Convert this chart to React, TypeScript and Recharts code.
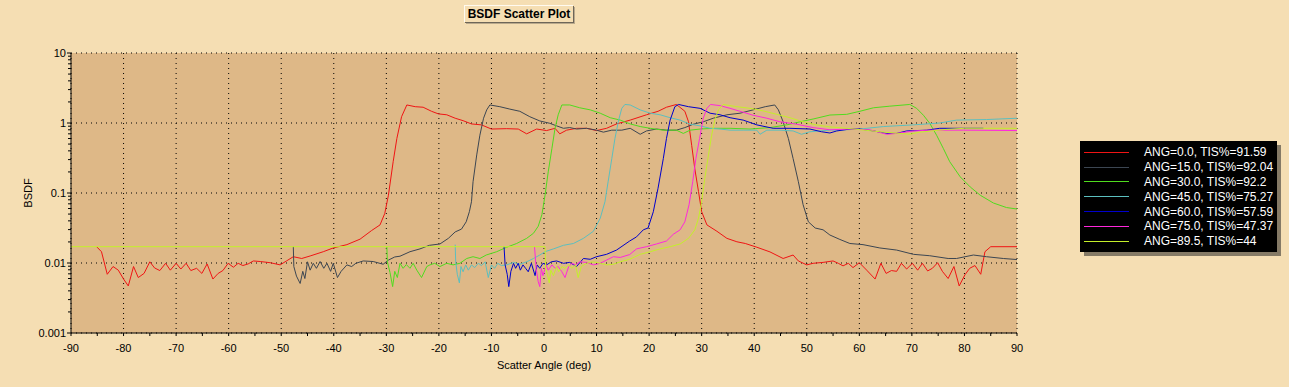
import React from 'react';
import { LineChart, Line, XAxis, YAxis, CartesianGrid, Legend } from 'recharts';

// scatter angle (deg), BSDF value
const ang00: [number, number][] = [
  [-85.1, 0.017], [-84.2, 0.0145], [-83.1, 0.0069], [-82, 0.0089], [-81, 0.0079], [-80, 0.0059], [-79.1, 0.0047],
  [-78.1, 0.0089], [-77.2, 0.0062], [-76.1, 0.0071], [-75, 0.0104], [-74.1, 0.0085], [-73.1, 0.0078], [-72, 0.0099],
  [-71.1, 0.0079], [-70, 0.0099], [-69.1, 0.0082], [-68.1, 0.0099], [-67.2, 0.0078], [-66.1, 0.0084], [-65.1, 0.0071],
  [-64.1, 0.0097], [-63, 0.0059], [-62, 0.0071], [-61.1, 0.0078], [-60.1, 0.0099], [-59.1, 0.0087], [-58.2, 0.0099],
  [-57.3, 0.0092], [-56.3, 0.0097], [-55.3, 0.0107], [-54, 0.0105], [-52.1, 0.0101], [-50.2, 0.0094], [-49, 0.0107],
  [-47.7, 0.0123], [-46.1, 0.0116], [-44.5, 0.0126], [-42, 0.0145], [-40.1, 0.0164], [-37.5, 0.0183], [-35, 0.0219],
  [-32.8, 0.0291], [-31.2, 0.035], [-30.3, 0.051], [-29.6, 0.093], [-28.7, 0.28], [-28, 0.6], [-27.1, 1.23],
  [-26.1, 1.81], [-24.5, 1.71], [-23, 1.68], [-21.4, 1.47], [-20.1, 1.35], [-18.5, 1.31], [-16.9, 1.17], [-15.4, 1.08],
  [-13.8, 0.97], [-11.9, 0.94], [-10, 0.82], [-7.1, 0.83], [-4.9, 0.82], [-3.3, 0.7], [-1.4, 0.82], [0.5, 0.78],
  [2.1, 0.84], [3, 0.7], [4.3, 0.79], [6.2, 0.84], [8.1, 0.84], [10, 0.78], [11.9, 0.84], [13.8, 0.97], [16.4, 1.1],
  [19.5, 1.31], [21.7, 1.47], [23.3, 1.68], [25.2, 1.84], [26.8, 1.47], [27.5, 1.04], [28.1, 0.48], [28.7, 0.22],
  [29.4, 0.105], [30, 0.054], [31, 0.035], [32.9, 0.0284], [34.8, 0.0225], [36.7, 0.0201], [38.3, 0.019],
  [40.5, 0.0168], [43, 0.0144], [45.5, 0.0116], [47.4, 0.013], [48.4, 0.0107], [50, 0.0094], [51.2, 0.0099],
  [53.1, 0.0102], [55, 0.0107], [56, 0.0099], [56.9, 0.0091], [57.9, 0.0099], [58.8, 0.0086], [60, 0.0101],
  [61.4, 0.0079], [63, 0.0059], [64.1, 0.0099], [65.1, 0.0071], [66.1, 0.0078], [67.1, 0.0076], [68, 0.0099],
  [69, 0.0082], [70.1, 0.0099], [71.1, 0.0079], [72, 0.0099], [73, 0.0077], [73.9, 0.0084], [74.9, 0.0101],
  [75.8, 0.0076], [76.9, 0.006], [78, 0.0089], [79, 0.0047], [80.1, 0.0068], [81, 0.0084], [82, 0.0092],
  [83.1, 0.0069], [83.9, 0.0145], [85, 0.0171], [90, 0.0171],
];

const ang15: [number, number][] = [
  [-47.7, 0.0171], [-47.6, 0.0089], [-47.1, 0.0065], [-46.4, 0.0051], [-45.9, 0.0076], [-45.5, 0.006], [-45, 0.0104],
  [-44.5, 0.0079], [-43.9, 0.0099], [-43.3, 0.0084], [-42.6, 0.0105], [-41.9, 0.0084], [-41.3, 0.0099], [-40.6, 0.0076],
  [-40.1, 0.0099], [-39.3, 0.0062], [-38.6, 0.0076], [-37.5, 0.0094], [-36.6, 0.0089], [-35.8, 0.0099], [-34.4, 0.0107],
  [-32.5, 0.0105], [-30.6, 0.0096], [-29.6, 0.011], [-28.4, 0.0122], [-27.4, 0.0125], [-25.5, 0.0145], [-23.6, 0.0159],
  [-21.8, 0.0179], [-19.8, 0.0187], [-18.2, 0.0225], [-16.9, 0.0278], [-15.7, 0.0305], [-14.8, 0.0388], [-14.2, 0.054],
  [-13.8, 0.075], [-13.5, 0.145], [-12.8, 0.35], [-12.2, 0.67], [-11.5, 1.17], [-10.9, 1.54], [-10.3, 1.81],
  [-8.4, 1.71], [-6.5, 1.58], [-4.6, 1.47], [-2.7, 1.23], [-0.8, 1.07], [1.1, 0.99], [2.4, 0.91], [3.7, 0.84],
  [4.9, 0.86], [6.2, 0.82], [8.1, 0.84], [10, 0.79], [11.3, 0.74], [12.9, 0.79], [14.8, 0.79], [16.4, 0.84],
  [18.3, 0.69], [19.5, 0.77], [21.4, 0.82], [23.3, 0.79], [25.2, 0.79], [26.8, 0.86], [28.4, 0.96], [30.3, 1.04],
  [32.2, 1.17], [34.8, 1.31], [37.3, 1.38], [39.8, 1.54], [42.1, 1.71], [43.9, 1.81], [44.6, 1.54], [45.5, 1.04],
  [46.5, 0.6], [47.4, 0.31], [48.4, 0.145], [49.3, 0.068], [50.3, 0.0388], [51.6, 0.0316], [53.1, 0.0298],
  [54.4, 0.0251], [56.3, 0.0217], [58.2, 0.019], [60.7, 0.0183], [63.9, 0.0164], [67.1, 0.0153], [70.3, 0.0133],
  [73.4, 0.0127], [76.9, 0.0116], [78.5, 0.0116], [81.7, 0.013], [84.2, 0.0123], [87.4, 0.0116], [90, 0.0112],
];

const ang30: [number, number][] = [
  [-29.9, 0.0171], [-29.8, 0.0104], [-29.3, 0.0073], [-28.8, 0.0046], [-28.4, 0.0076], [-27.9, 0.0062], [-27.4, 0.0099],
  [-26.8, 0.0084], [-26.2, 0.0095], [-25.5, 0.0084], [-24.9, 0.0099], [-24.2, 0.0079], [-23.3, 0.0062], [-22.3, 0.0089],
  [-21.7, 0.0094], [-20.8, 0.0099], [-19.8, 0.0089], [-18.5, 0.0099], [-17.3, 0.0094], [-16, 0.0099], [-14.7, 0.0116],
  [-13.5, 0.0123], [-12.2, 0.0116], [-11, 0.013], [-9, 0.0145], [-7.1, 0.0168], [-5.2, 0.019], [-3.3, 0.0225],
  [-2, 0.0266], [-1.1, 0.0335], [-0.4, 0.049], [0.2, 0.093], [0.8, 0.2], [1.5, 0.43], [2.1, 0.84], [2.7, 1.31],
  [3.4, 1.81], [4.9, 1.81], [6.8, 1.65], [8.8, 1.54], [10.7, 1.38], [12.6, 1.19], [14.5, 1.1], [16.4, 0.97],
  [18.3, 0.89], [20.2, 0.84], [22.7, 0.79], [25.2, 0.79], [26.5, 0.71], [27.8, 0.79], [29.7, 0.82], [32.2, 0.84],
  [35.4, 0.84], [39.2, 0.82], [43, 0.86], [46.2, 0.94], [48.7, 1.04], [51.2, 1.14], [54.4, 1.3], [57.6, 1.33],
  [60.1, 1.47], [62.7, 1.65], [65.8, 1.74], [69.6, 1.84], [70.9, 1.62], [72.2, 1.29], [73.4, 0.99], [74.7, 0.67],
  [76, 0.43], [77.2, 0.28], [79.2, 0.17], [81.1, 0.122], [83, 0.093], [85.5, 0.072], [88, 0.062], [90, 0.059],
];

const ang45: [number, number][] = [
  [-16.9, 0.0183], [-16.8, 0.0104], [-16.5, 0.0069], [-16.1, 0.0052], [-15.8, 0.0089], [-15.4, 0.0075], [-14.9, 0.0094],
  [-14.4, 0.0079], [-13.8, 0.0094], [-13.2, 0.0086], [-12.5, 0.0099], [-11.9, 0.0092], [-11.2, 0.0104], [-10.6, 0.0062],
  [-10, 0.0094], [-9.4, 0.0084], [-8.8, 0.0099], [-8.1, 0.0092], [-7.1, 0.0094], [-5.8, 0.0102], [-4.6, 0.0096],
  [-3.3, 0.0104], [-2, 0.0116], [-0.8, 0.013], [0.2, 0.0145], [1.8, 0.0159], [3.7, 0.0179], [5.6, 0.019],
  [7.5, 0.0225], [9.4, 0.0284], [10.7, 0.0436], [11.6, 0.075], [12.2, 0.145], [12.9, 0.31], [13.5, 0.6],
  [14.2, 1.1], [14.8, 1.62], [15.4, 1.84], [16.4, 1.81], [18.3, 1.54], [20.2, 1.38], [22.1, 1.31], [24, 1.19],
  [25.9, 1.1], [27.8, 0.96], [29.7, 0.91], [31.6, 0.84], [33.5, 0.82], [35.4, 0.79], [37.9, 0.79], [40.5, 0.79],
  [41.1, 0.69], [42.4, 0.79], [44.9, 0.79], [47.4, 0.77], [49, 0.69], [50.6, 0.75], [52.5, 0.77], [54.4, 0.79],
  [56, 0.79], [60.1, 0.82], [64.6, 0.89], [70.3, 0.94], [75.3, 1.0], [78.5, 1.1], [84.2, 1.12], [90, 1.17],
];

const ang60: [number, number][] = [
  [-7.6, 0.0171], [-7.4, 0.0094], [-7, 0.0069], [-6.7, 0.0046], [-6.3, 0.0076], [-5.8, 0.0099], [-5.4, 0.0084],
  [-4.9, 0.0099], [-4.5, 0.0079], [-4, 0.0094], [-3.5, 0.0084], [-3, 0.0075], [-2.4, 0.0099], [-1.7, 0.0066],
  [-1.3, 0.0094], [-0.8, 0.0084], [-0.2, 0.0099], [0.5, 0.0094], [1.4, 0.0104], [2.4, 0.0107], [3.7, 0.0099],
  [4.9, 0.0102], [6.2, 0.0089], [7.5, 0.0116], [8.8, 0.0113], [10, 0.0123], [11.9, 0.0133], [13.8, 0.0153],
  [16.3, 0.0206], [17.6, 0.0236], [18.9, 0.0298], [19.8, 0.0316], [20.8, 0.054], [21.7, 0.117], [22.7, 0.31],
  [23.3, 0.6], [24, 1.1], [24.9, 1.71], [25.6, 1.84], [27.5, 1.71], [29.7, 1.62], [31.6, 1.38], [33.5, 1.31],
  [35.4, 1.19], [37.9, 1.1], [40.5, 0.94], [43.6, 0.84], [46.8, 0.84], [50.6, 0.82], [52.8, 0.75], [54.4, 0.72],
  [55.7, 0.77], [58.2, 0.82], [60.1, 0.82], [62.7, 0.77], [65.2, 0.71], [67.1, 0.71], [69, 0.77], [72.8, 0.79],
  [75.3, 0.84], [79.8, 0.84], [83.6, 0.84],
];

const ang75: [number, number][] = [
  [-1.8, 0.0171], [-1.5, 0.0084], [-1.1, 0.0054], [-0.8, 0.0046], [-0.5, 0.0084], [-0.2, 0.0066], [0.4, 0.0094],
  [0.8, 0.0079], [1.5, 0.0094], [2.1, 0.0084], [2.7, 0.0089], [3.4, 0.0075], [4, 0.0062], [4.7, 0.0089],
  [5.3, 0.0099], [6, 0.0094], [6.8, 0.0104], [8.1, 0.0102], [9.4, 0.0094], [10.7, 0.0099], [11.9, 0.011],
  [13.2, 0.0123], [14.5, 0.012], [16.3, 0.0132], [17.6, 0.0159], [19.5, 0.0171], [21.4, 0.0187], [23.3, 0.0206],
  [24.6, 0.0257], [25.9, 0.0298], [26.8, 0.0388], [27.6, 0.068], [28.3, 0.145], [28.9, 0.31], [29.6, 0.6],
  [30.3, 1.17], [31, 1.62], [31.7, 1.84], [33.5, 1.77], [35.4, 1.62], [37.3, 1.47], [39.8, 1.29], [42.4, 1.17],
  [44.9, 1.04], [48.1, 0.96], [51.2, 0.86], [54.4, 0.8], [58.2, 0.82], [62, 0.8], [65.2, 0.69], [67.1, 0.71],
  [70.3, 0.77], [73.4, 0.79], [79.8, 0.79], [90, 0.78],
];

const ang895: [number, number][] = [
  [-90, 0.0171], [0.2, 0.0171], [0.3, 0.0084], [0.6, 0.0071], [1, 0.0052], [1.3, 0.0079], [1.8, 0.0066],
  [2.4, 0.0089], [2.8, 0.0075], [3.4, 0.0089], [4, 0.0084], [4.7, 0.0094], [5.3, 0.0084], [6, 0.0094],
  [6.5, 0.0062], [7.1, 0.0089], [8.1, 0.0099], [9.4, 0.0104], [10.7, 0.0099], [11.9, 0.0094], [13.2, 0.0096],
  [14.5, 0.0104], [16.3, 0.0113], [18.3, 0.0133], [20.2, 0.0145], [22.1, 0.0159], [24, 0.0171], [25.9, 0.0187],
  [27.5, 0.0225], [28.7, 0.0298], [29.4, 0.0436], [30, 0.075], [30.6, 0.162], [31.3, 0.35], [31.9, 0.67],
  [32.5, 1.1], [33.2, 1.54], [34.1, 1.84], [36.7, 1.71], [39.2, 1.62], [41.7, 1.49], [44.3, 1.33], [46.8, 1.19],
  [49.3, 1.04], [51.8, 0.94], [54.4, 0.88], [57.6, 0.84], [63.9, 0.75], [69.6, 0.69], [71.5, 0.74], [76.6, 0.81],
  [80, 0.84], [90, 0.84],
];

const seriesNames = [
  'ANG=0.0, TIS%=91.59',
  'ANG=15.0, TIS%=92.04',
  'ANG=30.0, TIS%=92.2',
  'ANG=45.0, TIS%=75.27',
  'ANG=60.0, TIS%=57.59',
  'ANG=75.0, TIS%=47.37',
  'ANG=89.5, TIS%=44',
];
const seriesData = [ang00, ang15, ang30, ang45, ang60, ang75, ang895];
const seriesColors = ['#f01414', '#3c4652', '#50dc1e', '#5cbfbf', '#0000cc', '#ff28dc', '#c4f02a'];

const xTicks = [-90, -85, -80, -75, -70, -65, -60, -55, -50, -45, -40, -35, -30, -25, -20, -15, -10, -5, 0,
  5, 10, 15, 20, 25, 30, 35, 40, 45, 50, 55, 60, 65, 70, 75, 80, 85, 90];
const xGrid = [-90, -80, -70, -60, -50, -40, -30, -20, -10, 0, 10, 20, 30, 40, 50, 60, 70, 80, 90];
const yMajor = [0.001, 0.01, 0.1, 1, 10];
const yLabels = ['0.001', '0.01', '0.1', '1', '10'];
const minorSteps = [2, 3, 4, 5, 6, 7, 8, 9];
const yTicks = [
  ...yMajor,
  ...yMajor.slice(0, -1).flatMap(d => minorSteps.map(m => +(d * m).toPrecision(3))),
].sort((a, b) => a - b);

const font = '"Liberation Sans", Arial, sans-serif';

const XTick = (props: any) => {
  const { x, y, payload } = props;
  const v = payload.value;
  return (
    <g>
      <line x1={x} x2={x} y1={y} y2={y + 3} stroke="#000" />
      {v % 10 === 0 && (
        <text x={x} y={y + 19} textAnchor="middle" fontSize={11} fontFamily={font} fill="#000">{v}</text>
      )}
    </g>
  );
};

const YTick = (props: any) => {
  const { x, y, payload } = props;
  const idx = yMajor.indexOf(payload.value);
  const major = idx >= 0;
  return (
    <g>
      <line x1={x - (major ? 4 : 3)} x2={x} y1={y} y2={y} stroke="#000" />
      {major && (
        <text x={x - 5} y={y + 4} textAnchor="end" fontSize={11} fontFamily={font} fill="#000">{yLabels[idx]}</text>
      )}
    </g>
  );
};

const LegendBox = () => (
  <div style={{
    background: '#000', width: 197, height: 111, boxSizing: 'border-box', padding: '4px 0 0 4px',
    boxShadow: '4px 4px 0 #857a66', fontFamily: font, fontSize: 12, color: '#fff',
  }}>
    {seriesNames.map((name, i) => (
      <div key={name} style={{ display: 'flex', alignItems: 'center', height: 14.8, whiteSpace: 'nowrap' }}>
        <span style={{ display: 'inline-block', width: 45, height: 1, background: seriesColors[i], marginRight: 15 }} />
        <span>{name}</span>
      </div>
    ))}
  </div>
);

export default function App() {
  return (
    <div style={{ position: 'relative', width: 1289, height: 387, background: '#F5DEB3', overflow: 'hidden' }}>
      <style>{'body{margin:0}'}</style>
      <div style={{
        position: 'absolute', left: 464, top: 5, width: 108, height: 16, zIndex: 2,
        borderTop: '1px solid #fffaf0', borderLeft: '1px solid #fffaf0',
        boxShadow: '1px 1px 0 #6e6658, 2px 2px 0 #b9a98c',
        fontFamily: font, fontSize: 12, fontWeight: 'bold', lineHeight: '16px', textAlign: 'center', color: '#000',
      }}>
        BSDF Scatter Plot
      </div>
      <LineChart width={1289} height={387} margin={{ top: 53, right: 272, bottom: 0, left: 0 }}>
        <CartesianGrid
          fill="#DEB887"
          fillOpacity={1}
          stroke="#000"
          strokeDasharray="1 4"
          verticalValues={xGrid}
          horizontalValues={yMajor}
        />
        <XAxis
          type="number"
          dataKey="x"
          domain={[-90, 90]}
          ticks={xTicks}
          interval={0}
          height={54}
          tickSize={0}
          tickMargin={0}
          tickLine={false}
          tick={<XTick />}
          axisLine={{ stroke: '#000' }}
          allowDataOverflow
          label={{ value: 'Scatter Angle (deg)', position: 'insideBottom', offset: 18, fill: '#000', fontSize: 11, fontFamily: font }}
        />
        <YAxis
          type="number"
          scale="log"
          domain={[0.001, 10]}
          ticks={yTicks}
          interval={0}
          width={71}
          tickSize={0}
          tickMargin={0}
          tickLine={false}
          tick={<YTick />}
          axisLine={{ stroke: '#000' }}
          allowDataOverflow
          label={{ value: 'BSDF', angle: -90, position: 'insideLeft', offset: 28, fill: '#000', fontSize: 11, fontFamily: font, style: { textAnchor: 'middle' } }}
        />
        {seriesData.map((pts, i) => (
          <Line
            key={seriesNames[i]}
            name={seriesNames[i]}
            data={pts.map(([x, y]) => ({ x, y }))}
            dataKey="y"
            type="linear"
            stroke={seriesColors[i]}
            strokeWidth={1}
            dot={false}
            activeDot={false}
            isAnimationActive={false}
          />
        ))}
        <Legend
          layout="horizontal"
          verticalAlign="middle"
          align="center"
          wrapperStyle={{ left: 1080, top: 141, width: 'auto', height: 'auto' }}
          content={() => <LegendBox />}
        />
      </LineChart>
    </div>
  );
}
